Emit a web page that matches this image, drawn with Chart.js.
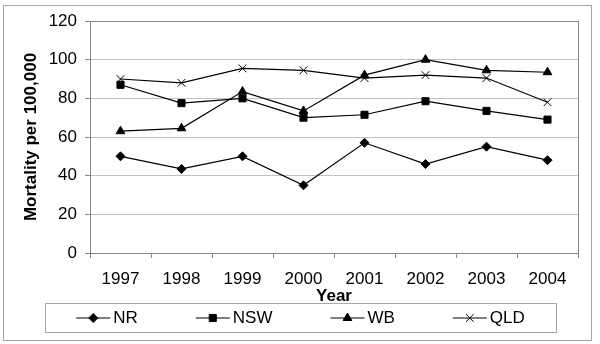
<!DOCTYPE html>
<html>
<head>
<meta charset="utf-8">
<script src="https://cdn.jsdelivr.net/npm/chart.js@4.4.1/dist/chart.umd.min.js"></script>
<style>
    html, body { margin: 0; padding: 0; background: #fff; }
    #wrap { width: 600px; height: 344px; }
</style>
</head>
<body>
<div id="wrap"><canvas id="mortality-chart"></canvas></div>
<script>
// Data
const years = ["1997", "1998", "1999", "2000", "2001", "2002", "2003", "2004"];
const nrValues = [50, 43.5, 50, 35, 57, 46, 55, 48];
const nswValues = [87, 77.5, 80, 70, 71.5, 78.5, 73.5, 69];
const wbValues = [63, 64.5, 83.5, 73.5, 92, 100, 94.5, 93.5];
const qldValues = [90, 88, 95.5, 94.5, 90.5, 92, 90.5, 78];
const seriesNames = ["NR", "NSW", "WB", "QLD"];
const seriesMarkers = ["rectRot", "rect", "triangle", "crossRot"];
const markerSizes = [4.5, 5, 5, 5.5];
const yTickMin = 0;
const yTickMax = 120;
const yTickStep = 20;

(function () {
    "use strict";

    const FONT = "'Liberation Sans', Arial, sans-serif";
    const FONT_SIZE = 17;
    const seriesValues = [nrValues, nswValues, wbValues, qldValues];

    // Frame round the whole picture and round the plot area
    const framePlugin = {
        id: "frame",
        beforeDraw(chart) {
            const ctx = chart.ctx;
            ctx.save();
            ctx.fillStyle = "#fff";
            ctx.fillRect(0, 0, chart.width, chart.height);
            ctx.strokeStyle = "#a6a6a6";
            ctx.lineWidth = 1;
            ctx.strokeRect(3.5, 5.5, 588, 335);
            ctx.restore();
        },
        beforeDatasetsDraw(chart) {
            const a = chart.chartArea;
            const ctx = chart.ctx;
            ctx.save();
            ctx.strokeStyle = "#868686";
            ctx.lineWidth = 1;
            ctx.strokeRect(Math.round(a.left) + 0.5, Math.round(a.top) + 0.5,
                Math.round(a.right - a.left), Math.round(a.bottom - a.top));
            ctx.restore();
        },
    };

    // Legend in a box, line + marker + name for each series
    const boxLegendPlugin = {
        id: "boxLegend",
        afterDraw(chart) {
            const ctx = chart.ctx;
            const boxLeft = 45, boxRight = 556, boxTop = 303, boxBottom = 332;
            const midY = (boxTop + boxBottom) / 2 + 0.5;
            const lineLen = 34, textGap = 3, itemGap = 58;
            ctx.save();
            ctx.strokeStyle = "#a6a6a6";
            ctx.lineWidth = 1;
            ctx.strokeRect(boxLeft + 0.5, boxTop + 0.5, boxRight - boxLeft, boxBottom - boxTop);
            ctx.font = FONT_SIZE + "px " + FONT;
            const widths = seriesNames.map((n) => lineLen + textGap + ctx.measureText(n).width);
            const total = widths.reduce((s, w) => s + w, 0) + itemGap * (seriesNames.length - 1);
            let x = (boxLeft + boxRight) / 2 - total / 2;
            seriesNames.forEach((name, i) => {
                ctx.strokeStyle = "#000";
                ctx.lineWidth = 1.2;
                ctx.beginPath();
                ctx.moveTo(x, midY);
                ctx.lineTo(x + lineLen, midY);
                ctx.stroke();
                ctx.fillStyle = "#000";
                ctx.lineWidth = 1;
                if (Chart.helpers && Chart.helpers.drawPoint) {
                    Chart.helpers.drawPoint(ctx, {
                        pointStyle: seriesMarkers[i],
                        radius: markerSizes[i],
                        rotation: 0,
                        borderWidth: 1,
                    }, x + lineLen / 2, midY);
                }
                ctx.fillStyle = "#000";
                ctx.textAlign = "left";
                ctx.textBaseline = "middle";
                ctx.fillText(name, x + lineLen + textGap, midY);
                x += widths[i] + itemGap;
            });
            ctx.restore();
        },
    };

    const ctx = document.getElementById("mortality-chart").getContext("2d");
    new Chart(ctx, {
        type: "line",
        data: {
            labels: years,
            datasets: seriesNames.map((name, i) => ({
                label: name,
                data: seriesValues[i],
                borderColor: "#000",
                backgroundColor: "#000",
                borderWidth: 1.2,
                pointStyle: seriesMarkers[i],
                pointRadius: markerSizes[i],
                pointBorderWidth: 1,
                pointBorderColor: "#000",
                pointBackgroundColor: "#000",
                tension: 0,
                fill: false,
            })),
        },
        options: {
            responsive: true,
            maintainAspectRatio: false,
            animation: false,
            devicePixelRatio: 1,
            layout: {
                padding: { left: 4, top: 21, right: 22, bottom: 37 },
            },
            plugins: {
                legend: { display: false },
                tooltip: { enabled: false },
            },
            scales: {
                x: {
                    offset: true,
                    grid: {
                        offset: true,
                        drawOnChartArea: false,
                        drawTicks: true,
                        tickLength: 5,
                        color: "#868686",
                    },
                    border: { display: false },
                    ticks: {
                        color: "#000",
                        padding: 11,
                        maxRotation: 0,
                        font: { family: FONT, size: FONT_SIZE },
                    },
                    title: {
                        display: true,
                        text: "Year",
                        color: "#000",
                        padding: 0,
                        font: { family: FONT, size: FONT_SIZE, weight: "bold" },
                    },
                    afterFit: (scale) => {
                        scale.height = 54;
                    },
                },
                y: {
                    min: yTickMin,
                    max: yTickMax,
                    grid: {
                        color: "#c0c0c0",
                        tickColor: "#868686",
                        tickLength: 5,
                    },
                    border: { display: false },
                    ticks: {
                        stepSize: yTickStep,
                        color: "#000",
                        padding: 8,
                        font: { family: FONT, size: FONT_SIZE },
                    },
                    title: {
                        display: true,
                        text: "Mortality per 100,000",
                        color: "#000",
                        padding: { top: 17, bottom: 0 },
                        font: { family: FONT, size: FONT_SIZE, weight: "bold" },
                    },
                    afterFit: (scale) => {
                        scale.width = 86;
                    },
                },
            },
        },
        plugins: [framePlugin, boxLegendPlugin],
    });
})();
</script>
</body>
</html>
